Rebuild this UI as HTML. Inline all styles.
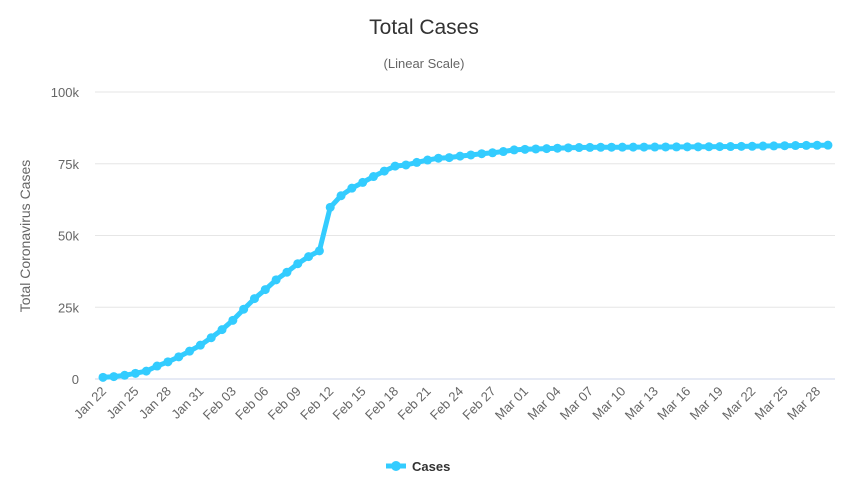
<!DOCTYPE html>
<html><head><meta charset="utf-8"><style>
body{margin:0;background:#fff;}
svg text{font-family:"Liberation Sans",sans-serif;}
</style></head><body>
<svg id="s" width="849" height="477" xmlns="http://www.w3.org/2000/svg">
<rect width="849" height="477" fill="#fff"/>
<text x="424" y="34" text-anchor="middle" font-size="21" fill="#333">Total Cases</text>
<text x="424" y="68" text-anchor="middle" font-size="13" fill="#666">(Linear Scale)</text>
<text transform="translate(30,236) rotate(-90)" text-anchor="middle" font-size="14" fill="#666">Total Coronavirus Cases</text>
<g id="grid"></g>
<g id="xl"></g>
<path id="ln" fill="none" stroke="#33ccff" stroke-width="5" stroke-linejoin="round"/>
<g id="mk" fill="#33ccff"></g>
<line x1="386" y1="466" x2="406" y2="466" stroke="#33ccff" stroke-width="5"/>
<circle cx="396" cy="466" r="5" fill="#33ccff"/>
<text x="412" y="471" font-size="13" font-weight="bold" fill="#333">Cases</text>
</svg>
<script>
var d=[571,830,1287,1975,2744,4515,5974,7711,9692,11791,14380,17205,20438,24324,28018,31161,34546,37198,40171,42638,44653,59804,63851,66492,68500,70548,72436,74185,74576,75465,76288,76936,77150,77658,78064,78497,78824,79251,79824,80026,80151,80270,80409,80552,80651,80695,80735,80754,80778,80793,80813,80824,80844,80860,80881,80894,80928,80967,81008,81054,81093,81171,81218,81285,81340,81394,81439,81470];
var NS="http://www.w3.org/2000/svg";
function X(i){return 103+i*10.82;}function Y(v){return 379-v*287/100000;}
function el(t,a,p,txt){var e=document.createElementNS(NS,t);for(var k in a)e.setAttribute(k,a[k]);if(txt)e.textContent=txt;document.getElementById(p).appendChild(e);}
var lab=["0","25k","50k","75k","100k"];
for(var i=0;i<5;i++){var y=379-i*71.75;el("line",{x1:95,x2:835,y1:y,y2:y,stroke:i==0?"#ccd6eb":"#e6e6e6","stroke-width":1},"grid");
el("text",{x:79,y:y+5,"text-anchor":"end","font-size":13,fill:"#666"},"grid",lab[i]);}
var pts=d.map(function(v,i){return X(i).toFixed(1)+","+Y(v).toFixed(1)});
document.getElementById("ln").setAttribute("d","M"+pts.join("L"));
d.forEach(function(v,i){el("circle",{cx:X(i),cy:Y(v),r:4.5},"mk");});
var mon=["Jan","Feb","Mar"],start=new Date(2020,0,22);
for(var i=0;i<d.length;i+=3){var dt=new Date(2020,0,22+i);var s=mon[dt.getMonth()]+" "+("0"+dt.getDate()).slice(-2);
var x=X(i)+4,y=392;el("text",{transform:"translate("+x+","+y+") rotate(-45)","text-anchor":"end","font-size":13,fill:"#666"},"xl",s);}
</script>
</body></html>
